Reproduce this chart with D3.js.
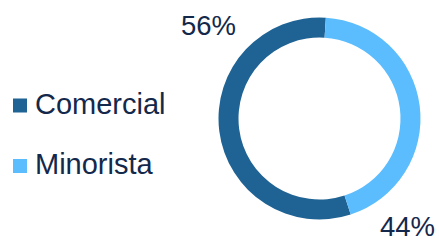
<!DOCTYPE html>
<html>
<head>
<meta charset="utf-8">
<script src="https://cdn.jsdelivr.net/npm/d3@7"></script>
<style>
  body { margin: 0; background: #fff; }
  text { font-family: "Liberation Sans", Arial, sans-serif; fill: #14284b; }
</style>
</head>
<body>
<svg width="439" height="241"></svg>
<script>
var categories = ["Comercial", "Minorista"];
var values = [56, 44];
var colors = ["#1f6394", "#5bbdfd"];

var svg = d3.select("svg");

var cx = 319.5, cy = 118.5, outer = 101, inner = 81;

// Slices start so that Minorista begins just right of 12 o'clock
var start = 162 * Math.PI / 180;
var pie = d3.pie().sort(null).startAngle(start).endAngle(start + 2 * Math.PI);
var arc = d3.arc().innerRadius(inner).outerRadius(outer);

var arcs = pie(values);

var g = svg.append("g").attr("transform", "translate(" + cx + "," + cy + ")");

g.selectAll("path")
  .data(arcs)
  .enter().append("path")
    .attr("d", arc)
    .attr("fill", function(d, i) { return colors[i]; });

// Percentage labels
var labelPos = [[181, 35], [380, 236]];
svg.selectAll(".pct")
  .data(arcs)
  .enter().append("text")
    .attr("class", "pct")
    .attr("x", function(d, i) { return labelPos[i][0]; })
    .attr("y", function(d, i) { return labelPos[i][1]; })
    .style("font-size", "27.5px")
    .text(function(d) { return d.data + "%"; });

// Legend
var legend = svg.selectAll(".legend")
  .data(categories)
  .enter().append("g")
    .attr("class", "legend")
    .attr("transform", function(d, i) { return "translate(13," + (98.5 + i * 60.5) + ")"; });

legend.append("rect")
  .attr("width", 14)
  .attr("height", 14)
  .attr("fill", function(d, i) { return colors[i]; });

legend.append("text")
  .attr("x", 22)
  .attr("y", 15)
  .style("font-size", "29px")
  .text(function(d) { return d; });
</script>
</body>
</html>
